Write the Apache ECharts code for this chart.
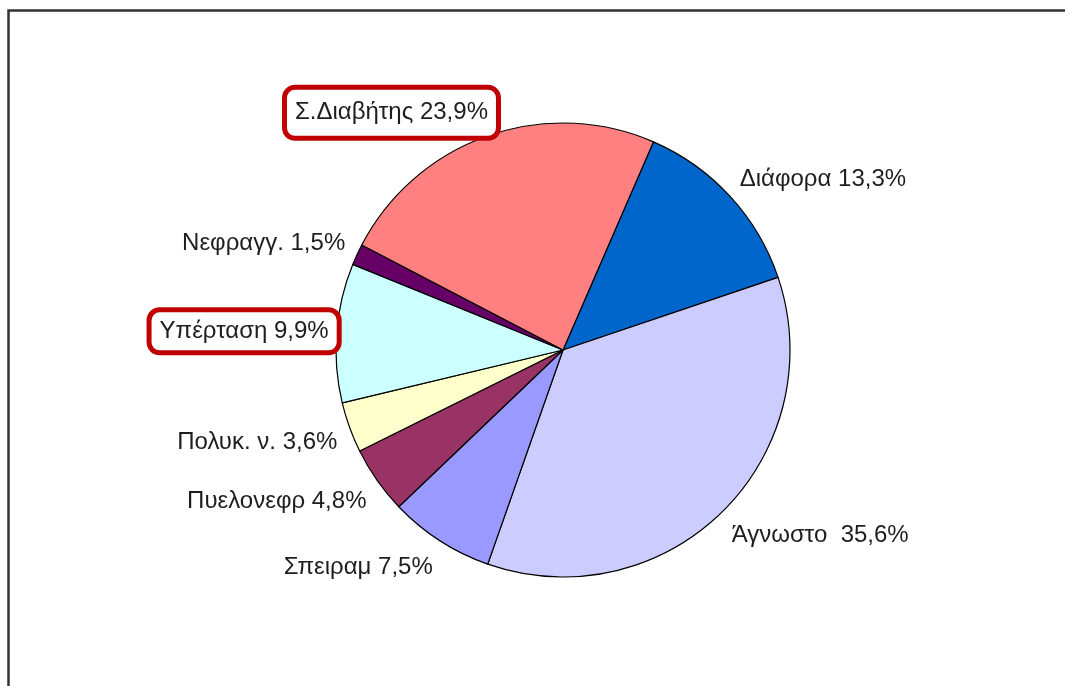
<!DOCTYPE html>
<html><head><meta charset="utf-8">
<script src="https://cdn.jsdelivr.net/npm/echarts@6/dist/echarts.min.js"></script>
<style>html,body{margin:0;padding:0;background:#fff}#c{width:1065px;height:686px}</style>
</head><body><div id="c"></div>
<script>
const categories = ['Διάφορα', 'Άγνωστο ', 'Σπειραμ', 'Πυελονεφρ', 'Πολυκ. ν.', 'Υπέρταση', 'Νεφραγγ.', 'Σ.Διαβήτης'];
const values = [13.3, 35.6, 7.5, 4.8, 3.6, 9.9, 1.5, 23.9];
const highlighted = ['Σ.Διαβήτης', 'Υπέρταση'];
const colors = ['#0066CC', '#CCCCFF', '#9999FF', '#993366', '#FFFFCC', '#CCFFFF', '#660066', '#FF8080'];

const CX = 563, CY = 350, RADIUS = 227, GAP = 13, START = 66.5;
const FONT = 24, LABEL_H = 24;
const total = values.reduce((a, b) => a + b, 0);
const BOX_PADS = {'Σ.Διαβήτης': [11, 8], 'Υπέρταση': [7, 8]};
const BOX_BORDER = 5;

const chart = echarts.init(document.getElementById('c'), null, {renderer: 'canvas'});
chart.setOption({
  animation: false,
  backgroundColor: '#fff',
  graphic: [{
    type: 'rect', left: 6, top: 8, shape: {width: 1200, height: 800},
    style: {fill: 'none', stroke: '#333', lineWidth: 2.5}, z: 10
  }],
  series: [{
    type: 'pie',
    center: [CX, CY],
    radius: RADIUS,
    startAngle: START,
    clockwise: true,
    avoidLabelOverlap: false,
    color: colors,
    itemStyle: {borderColor: '#000', borderWidth: 1.2},
    labelLine: {show: false},
    label: {
      show: true, position: 'outside',
      color: '#1e1e1e', fontSize: FONT, lineHeight: LABEL_H,
      fontFamily: '"Liberation Sans", Arial, sans-serif',
      formatter: p => p.name + ' ' + String(p.value).replace('.', ',') + '%'
    },
    emphasis: {disabled: true},
    data: categories.map((c, i) => {
      const d = {name: c, value: values[i]};
      if (highlighted.includes(c)) {
        d.label = {borderColor: '#C00000', borderWidth: BOX_BORDER, borderRadius: 8, padding: BOX_PADS[c], backgroundColor: '#fff'};
      }
      return d;
    }),
    labelLayout: function (p) {
      let cum = 0;
      for (let i = 0; i < p.dataIndex; i++) cum += values[i];
      const mid = (START - (cum + values[p.dataIndex] / 2) / total * 360) * Math.PI / 180;
      const dx = Math.cos(mid), dy = -Math.sin(mid);
      const r = RADIUS + GAP;
      const name = categories[p.dataIndex];
      const boxed = highlighted.includes(name);
      const ox = boxed ? BOX_PADS[name][1] + BOX_BORDER : 0;
      return {
        x: CX + r * dx - Math.sign(dx) * ox,
        y: CY + 3 + r * dy * 1.01 + Math.sign(dy) * Math.sqrt(Math.abs(dy)) * LABEL_H / 2,
        align: dx >= 0 ? 'left' : 'right',
        verticalAlign: 'middle'
      };
    }
  }]
});
</script>
</body></html>
